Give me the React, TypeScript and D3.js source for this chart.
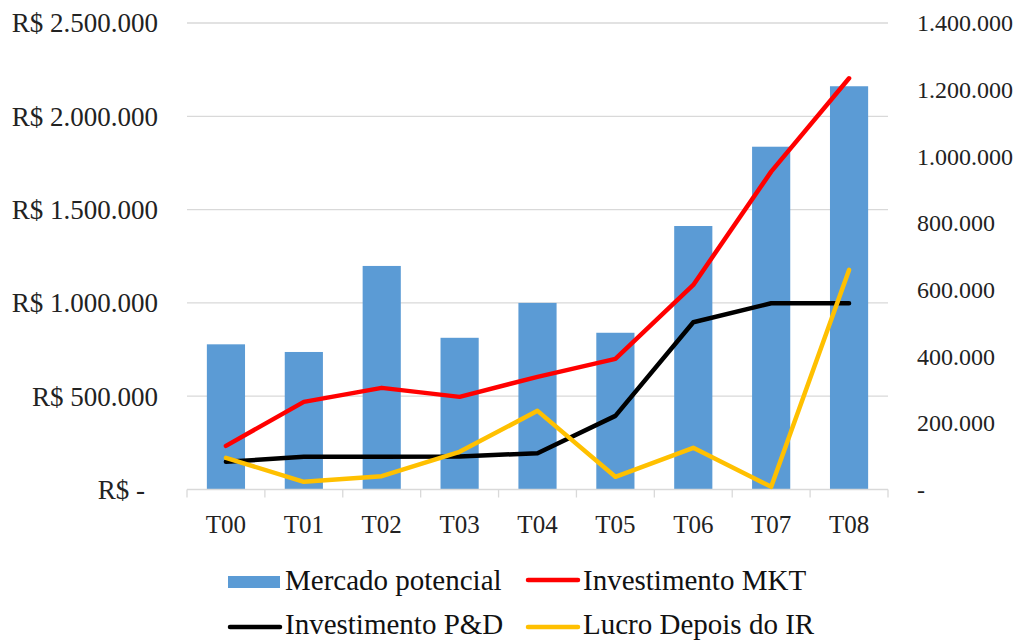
import React, { useEffect, useRef } from 'react'
import * as d3 from 'd3'

const periods = ['T00', 'T01', 'T02', 'T03', 'T04', 'T05', 'T06', 'T07', 'T08']
// left axis (bars)
const mercadoPotencial = [778000, 737000, 1198000, 813000, 1000000, 840000, 1412000, 1837000, 2161000]
// right axis (lines)
const investimentoMkt = [131000, 263000, 305000, 278000, 338000, 392000, 614000, 954000, 1234000]
const investimentoPD = [83000, 98000, 98000, 99000, 109000, 221000, 502000, 559000, 559000]
const lucroDepoisIR = [95000, 23000, 40000, 113000, 236000, 38000, 125000, 8000, 659000]
const leftTicks = [0, 500000, 1000000, 1500000, 2000000, 2500000]
const rightTicks = [0, 200000, 400000, 600000, 800000, 1000000, 1200000, 1400000]

const lineSeries = [
  { name: 'Investimento MKT', values: investimentoMkt, color: '#ff0000' },
  { name: 'Investimento P&D', values: investimentoPD, color: '#000000' },
  { name: 'Lucro Depois do IR', values: lucroDepoisIR, color: '#ffc000' },
]

const fmt = (v: number) => d3.format(',')(v).replace(/,/g, '.')

export default function App() {
  const ref = useRef<SVGSVGElement>(null)

  useEffect(() => {
    const svg = d3.select(ref.current)
    svg.selectAll('*').remove()
    const left = 187, right = 888, top = 23, bottom = 489.5
    const font = 'Liberation Serif, Times New Roman, serif'

    const x = d3.scaleBand().domain(periods).range([left, right]).padding(0)
    const yL = d3.scaleLinear().domain([0, 2500000]).range([bottom, top])
    const yR = d3.scaleLinear().domain([0, 1400000]).range([bottom, top])

    // gridlines
    svg.append('g').selectAll('line').data(leftTicks.filter(d => d > 0)).enter().append('line')
      .attr('x1', left).attr('x2', right)
      .attr('y1', d => yL(d)).attr('y2', d => yL(d))
      .attr('stroke', '#d9d9d9').attr('stroke-width', 1.3)

    // left labels
    svg.append('g').selectAll('text').data(leftTicks).enter().append('text')
      .attr('x', d => d === 0 ? 145 : 158)
      .attr('y', d => yL(d))
      .attr('dy', '0.35em')
      .attr('text-anchor', 'end')
      .style('font-family', font).style('font-size', '27px').attr('fill', '#222')
      .text(d => d === 0 ? 'R$ -' : 'R$ ' + fmt(d))

    // right labels
    svg.append('g').selectAll('text').data(rightTicks).enter().append('text')
      .attr('x', 917)
      .attr('y', d => yR(d))
      .attr('dy', '0.35em')
      .style('font-family', font).style('font-size', '24px').attr('fill', '#222')
      .text(d => d === 0 ? '-' : fmt(d))

    // bars
    const bw = x.bandwidth() * 0.49
    svg.append('g').selectAll('rect').data(mercadoPotencial).enter().append('rect')
      .attr('x', (d, i) => x(periods[i])! + (x.bandwidth() - bw) / 2)
      .attr('width', bw)
      .attr('y', d => yL(d))
      .attr('height', d => bottom - yL(d))
      .attr('fill', '#5b9bd5')

    // x axis
    svg.append('line').attr('x1', left).attr('x2', right).attr('y1', bottom).attr('y2', bottom)
      .attr('stroke', '#d9d9d9').attr('stroke-width', 1.3)
    const bounds = periods.map(p => x(p)!).concat([right])
    svg.append('g').selectAll('line').data(bounds).enter().append('line')
      .attr('x1', d => d).attr('x2', d => d).attr('y1', bottom).attr('y2', bottom + 8)
      .attr('stroke', '#d9d9d9').attr('stroke-width', 1.3)
    svg.append('g').selectAll('text').data(periods).enter().append('text')
      .attr('x', d => x(d)! + x.bandwidth() / 2)
      .attr('y', 533)
      .attr('text-anchor', 'middle')
      .style('font-family', font).style('font-size', '25px').attr('fill', '#222')
      .text(d => d)

    // lines
    const line = d3.line<number>()
      .x((d, i) => x(periods[i])! + x.bandwidth() / 2)
      .y(d => yR(d))
    lineSeries.forEach(s => {
      svg.append('path').datum(s.values)
        .attr('d', line)
        .attr('fill', 'none')
        .attr('stroke', s.color)
        .attr('stroke-width', 4.5)
        .attr('stroke-linejoin', 'round')
        .attr('stroke-linecap', 'round')
    })

    // legend
    const legend = [
      { name: 'Mercado potencial', color: '#5b9bd5', bar: true, x: 228, y: 582, base: 590 },
      { name: lineSeries[0].name, color: lineSeries[0].color, bar: false, x: 526, y: 580, base: 590 },
      { name: lineSeries[1].name, color: lineSeries[1].color, bar: false, x: 228, y: 627, base: 634 },
      { name: lineSeries[2].name, color: lineSeries[2].color, bar: false, x: 526, y: 627, base: 634 },
    ]
    legend.forEach(l => {
      if (l.bar) {
        svg.append('rect').attr('x', l.x).attr('y', l.y - 6).attr('width', 52).attr('height', 12).attr('fill', l.color)
      } else {
        svg.append('line').attr('x1', l.x + 2).attr('x2', l.x + 52).attr('y1', l.y).attr('y2', l.y)
          .attr('stroke', l.color).attr('stroke-width', 4.5).attr('stroke-linecap', 'round')
      }
      svg.append('text').attr('x', l.x + 57).attr('y', l.base)
        .style('font-family', font).style('font-size', '29px').attr('fill', '#111')
        .text(l.name)
    })
  }, [])

  return (
    <div style={{ position: 'absolute', left: 0, top: 0 }}>
      <svg ref={ref} width={1026} height={641} style={{ display: 'block', background: '#fff' }} />
    </div>
  )
}
